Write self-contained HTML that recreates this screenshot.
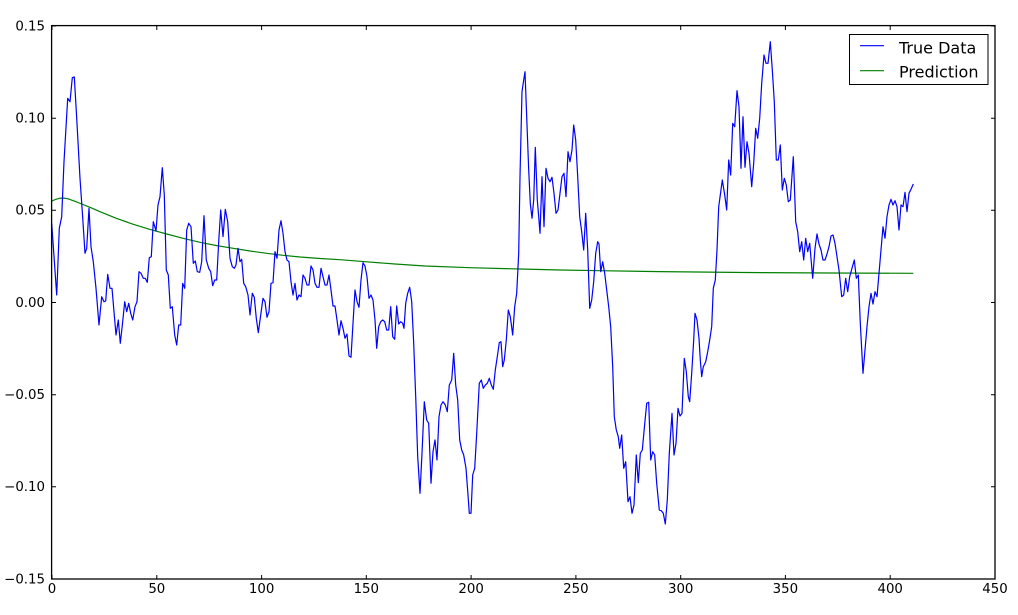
<!DOCTYPE html>
<html><head><meta charset="utf-8"><style>
html,body{margin:0;padding:0;background:#fff;}
svg{display:block;}
text{font-family:"DejaVu Sans","Liberation Sans",sans-serif;fill:#000;}
</style></head><body>
<svg width="1018" height="615" viewBox="0 0 1018 615" xmlns="http://www.w3.org/2000/svg">
<rect x="0" y="0" width="1018" height="615" fill="#fff"/>
<!-- prediction -->
<polyline fill="none" stroke="#008000" stroke-width="1.2" stroke-linejoin="round" points="51.7,201 56,199.3 60,198.2 63.3,198 68,198.8 75,201.3 81.7,204 90,207.3 100,211.7 116,218.2 133.3,224.3 150,229.4 166.7,234 183,238.3 200,242.3 216,245.5 233.3,248.3 250,251 266.7,253.3 283,255.3 300,257 320,258.5 340,259.7 365,261.7 395,264 425,266 470,267.7 520,269 560,270 600,270.7 660,271.6 745,272.5 830,273 913.3,273.3"/>
<!-- true data -->
<polyline fill="none" stroke="#0000ff" stroke-width="1.2" stroke-linejoin="round" points="51.7,223.3 56.7,295 59.3,228.3 61.7,216.7 64,161.7 67.7,98.3 70,101.7 72.3,77.7 74.3,77 76.7,118 80,178.3 82.3,211.7 85,253.3 86.7,248.3 89,208.3 91,246.7 93.3,261.7 96,288.3 99,325 101.7,296.7 104,301.7 105.7,301 107.7,274.3 110,288.3 112,288.3 114,311.7 116,335 118.3,320 120.3,343.3 122.7,321.7 124.7,301.7 126.7,311.7 128.7,303.3 130.7,313.3 132.7,320 135,306.7 137,301.7 139,271.7 141,273.3 143.3,278.3 145.3,278.3 147.3,282.3 149.3,257.7 151.3,256.7 153.3,221.7 156,231 158,205 160,196.7 162.3,167.7 164.3,195 166.3,270 168.3,275 170.3,308.3 172.3,306.7 174.7,335 176.7,345 178.7,325 180.7,325 182.7,283.3 184.7,288.3 186.7,230 188.7,223.3 191,226.7 193.3,263.3 195.3,261 197.3,271.7 199.7,272.3 201.7,261.7 204,215.7 206.3,260 208.7,268.3 210.7,271.7 212.7,285.7 214.7,280 216.7,280 218.7,241.7 220.7,210 223,236.7 225.3,209.3 227.7,221.7 230,258.3 232.3,266.7 234.3,268.3 236,265 238,248.3 240,261.7 241.7,259.3 243.7,283.3 245.7,286.7 248,295 250,315 252.3,293.3 254.3,297.3 256.3,318.3 258.3,332.7 260.7,315 263,298.3 265,301.7 267,317.3 269,311.7 271,283.3 273,282.7 275,251.7 277,258.3 279,230 281,220.7 283,233.3 285,251.7 287,260 289,261.7 291,281.7 293,295 295,283.3 297,300 299,295 301,296.7 303,275 305,278.3 307,285 309,285 311,266 313,270 315,283.3 317,287.3 319,287.3 321,268.3 323,276.7 325,285 327,285 329,275 331,290 333,306 335,306 337,320 339,335 341,320.7 343,328.3 345,338.3 347,334 349,356 351,357.3 353,323.3 355,290 357,301.7 359,307.3 361,280 363,262.7 365,266 367,276.7 369,298.3 371,295 373,300 375,320 376.7,348.3 378.7,326.7 380.7,321.7 382.7,320 384.7,321.7 386.7,330 388.7,330 390.7,306.7 392.7,336.7 394.7,339.3 396.7,306 398.7,324 400.7,321.7 402.7,323.3 404,328.3 405.7,303.3 407.7,293.3 409.7,287.3 411.7,301.7 413.7,343.3 415.7,396.7 417.7,456.7 420,493.3 422,453.3 424.3,401.7 426.7,420 428.7,423.3 431,483.3 433,451.7 435,440 437,460 439,416.7 441,405 443,401.7 445.3,405 447.3,411.7 449.3,385 451.7,380 453.7,353.3 455.7,385 457.7,400 459.7,440 461.7,450 463.7,455 466,468.3 468,495 469.3,513.3 471,513.3 472.7,475 474.7,468.3 476.7,433.3 479.3,383.3 481.3,380 483.3,388.3 485.3,385 487.3,383.3 489.3,378.3 491.3,385 493.3,389.3 495.3,370 497.3,356.7 499.3,342.7 501,341.7 502.7,366.7 504.3,360 506.3,340 508.3,310 510.3,316.7 512.7,335 514.7,306.7 516.7,293.3 518.7,253.3 520,176.7 522,91.7 523.7,80 525,71.7 526.7,116.7 528.7,170 530.3,203.3 532,218.3 533.7,200 535.3,147.3 537.3,200 538.7,216.7 540,233.3 542,176.7 544,226.7 546,168.3 548,178.3 550,181.7 552,177.3 554,193.3 556,213.3 558,210 560,193.3 562,176.7 564,173.3 566,196.7 568,151.7 570,161.7 572,150 573.7,125 575.7,140 577.7,176.7 579.7,216.7 581.7,231.7 583.7,250 585.7,213.3 587.7,250 589.7,308.3 591.7,300 593.7,281.7 595.7,253.3 597.7,241.7 599,244 600.7,271.7 602.7,261.7 604.7,273.3 606.7,290 608.7,306.7 610.7,326.7 612.7,366.7 614.3,416.7 616.3,430 618.3,436.7 619.7,448.3 621.7,435 623.7,468.3 625.7,461.7 628,501.7 630,496.7 632,513.3 634,505 636.3,455 638.3,482.7 640.3,453.3 642.3,450 644.3,428.3 646.7,403.3 648.7,402.3 650.7,460 652.7,451.7 654.7,455 656.7,483.3 659.3,510 661.3,510.7 663.3,513.3 665.3,524 667.3,500 669.3,453.3 672,413.3 674,455 676,443.3 678,408.3 680,416 682,413.3 684.3,358.3 686.3,371.7 688.3,396.7 689.7,401.7 691.7,373.3 693.7,340 695,313.3 697,320 699,338.3 700.3,360 701.7,376.7 703.3,366.7 705.7,361.7 707.7,351.7 709.7,340 711.7,326.7 713.3,288.3 715.3,280 717,250 718.7,206.7 720.3,195 722.3,180 724.7,195 726.7,210 728.7,160 730.7,175 732.7,123.3 734.7,126.7 737,90.7 739,106.7 741,168.3 743,116.7 745,167.3 747,141.7 749,153.3 751.7,186.7 753.7,163.3 755.7,128.3 757.7,138.3 759.7,118.3 761.7,83.3 764,55 766,63.3 768,63.3 770.3,41.7 772.3,70 774.3,101.7 776.3,160 778.3,160 780.3,145 782.3,190 784.3,178.3 786.3,185 788.3,201.7 790.3,200 793.3,156.7 795.7,221.7 797.7,231.7 799.7,251.7 801.7,241.7 803.7,260 805.7,238.3 807.7,251.7 809.7,243.3 812.7,278.3 815,248.3 817,234 819,244 821,250 823,260 825,260 827,254 829,246.7 831,236 833,235 835,243.3 837,256.7 839,270 841.7,296.7 843.7,295 845.7,278.3 847.7,291.7 849.7,276.7 851.7,269.3 854.3,260 856.3,278.3 858.3,275 860.3,323.3 863,373.3 865,350 867,326.7 869,306.7 871,293.3 873,304 875,291.7 877,296.7 879,273.3 881,250 883,226.7 885,238.3 887,216.7 889,205 891,199.3 893,205 895,200.7 897,206.7 899,230 901,205 903,206.7 905,192.3 907,211.7 909,193.3 911,189.3 913.3,184"/>
<!-- ticks -->
<g stroke="#000" stroke-width="1">
<path d="M52,579v-4M156.8,579v-4M261.6,579v-4M366.3,579v-4M471.1,579v-4M575.9,579v-4M680.7,579v-4M785.4,579v-4M890.2,579v-4M995,579v-4"/>
<path d="M52,26v4M156.8,26v4M261.6,26v4M366.3,26v4M471.1,26v4M575.9,26v4M680.7,26v4M785.4,26v4M890.2,26v4M995,26v4"/>
<path d="M52,26h4M52,118.2h4M52,210.3h4M52,302.5h4M52,394.7h4M52,486.8h4M52,579h4"/>
<path d="M995,26h-4M995,118.2h-4M995,210.3h-4M995,302.5h-4M995,394.7h-4M995,486.8h-4M995,579h-4"/>
</g>
<!-- frame -->
<rect x="51.6" y="25.6" width="943.4" height="553.4" fill="none" stroke="#000" stroke-width="1.3"/>
<!-- y labels -->
<g font-size="13.33" text-anchor="end">
<text x="45" y="30.3">0.15</text>
<text x="45" y="122.5">0.10</text>
<text x="45" y="214.6">0.05</text>
<text x="45" y="306.8">0.00</text>
<text x="45" y="399">−0.05</text>
<text x="45" y="491.1">−0.10</text>
<text x="45" y="583.3">−0.15</text>
</g>
<!-- x labels -->
<g font-size="13.33" text-anchor="middle">
<text x="52" y="593">0</text>
<text x="156.8" y="593">50</text>
<text x="261.6" y="593">100</text>
<text x="366.3" y="593">150</text>
<text x="471.1" y="593">200</text>
<text x="575.9" y="593">250</text>
<text x="680.7" y="593">300</text>
<text x="785.4" y="593">350</text>
<text x="890.2" y="593">400</text>
<text x="995" y="593">450</text>
</g>
<!-- legend -->
<rect x="849.5" y="34.5" width="138.5" height="50" fill="#fff" stroke="#000" stroke-width="1"/>
<line x1="860" y1="45.7" x2="884" y2="45.7" stroke="#0000ff" stroke-width="1.2"/>
<line x1="860" y1="70.7" x2="884" y2="70.7" stroke="#008000" stroke-width="1.2"/>
<g font-size="16">
<text x="899" y="53.3">True Data</text>
<text x="899" y="77.5">Prediction</text>
</g>
</svg>
</body></html>
